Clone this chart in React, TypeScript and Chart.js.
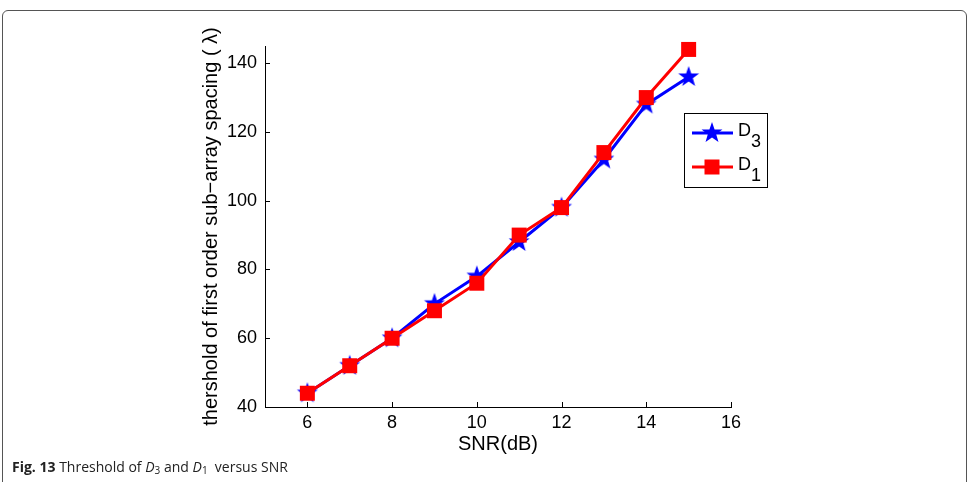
import React, { useEffect, useRef } from "react";
import { Chart, registerables } from "chart.js";
Chart.register(...registerables);

const snr = [6, 7, 8, 9, 10, 11, 12, 13, 14, 15];
const d3Values = [44, 52, 60, 70, 78, 88, 98, 112, 128, 136];
const d1Values = [44, 52, 60, 68, 76, 90, 98, 114, 130, 144];
const xTicks = [6, 8, 10, 12, 14, 16];
const yTicks = [40, 60, 80, 100, 120, 140];
const legendMain = ["D", "D"];
const legendSub = ["3", "1"];
const xTitle = "SNR(dB)";
const yTitle = "thershold of first order sub\u2212array spacing ( \u03bb)";

const FONT = "'Liberation Sans', Arial, sans-serif";

function makeStar(color: string, R: number) {
  const s = Math.ceil(2 * R + 2);
  const c = document.createElement("canvas");
  c.width = s;
  c.height = s;
  const ctx = c.getContext("2d")!;
  ctx.fillStyle = color;
  ctx.beginPath();
  for (let i = 0; i < 10; i++) {
    const r = i % 2 ? R * 0.4 : R;
    const a = -Math.PI / 2 + (i * Math.PI) / 5;
    const x = s / 2 + r * Math.cos(a);
    const y = s / 2 + r * Math.sin(a);
    if (i === 0) ctx.moveTo(x, y);
    else ctx.lineTo(x, y);
  }
  ctx.closePath();
  ctx.fill();
  return c;
}

export default function App() {
  const ref = useRef<HTMLCanvasElement | null>(null);

  useEffect(() => {
    if (!ref.current) return;
    const star = makeStar("#0000ff", 11);

    const extras = {
      id: "extras",
      afterDraw(chart: any) {
        const ctx = chart.ctx;
        const xs = chart.scales.x;
        const ys = chart.scales.y;
        const area = chart.chartArea;
        ctx.save();
        ctx.strokeStyle = "#000";
        ctx.lineWidth = 1;
        ctx.beginPath();
        xTicks.forEach((v) => {
          const px = Math.round(xs.getPixelForValue(v)) + 0.5;
          ctx.moveTo(px, area.bottom);
          ctx.lineTo(px, area.bottom - 5);
        });
        yTicks.forEach((v) => {
          const py = Math.round(ys.getPixelForValue(v)) + 0.5;
          ctx.moveTo(area.left, py);
          ctx.lineTo(area.left + 5, py);
        });
        ctx.stroke();

        // legend
        const bx = 684.5, by = 113.5, bw = 83, bh = 74;
        ctx.fillStyle = "#fff";
        ctx.fillRect(bx, by, bw, bh);
        ctx.strokeStyle = "#000";
        ctx.strokeRect(bx, by, bw, bh);
        const rows = [133, 167];
        const colors = ["#0000ff", "#ff0000"];
        rows.forEach((ry, i) => {
          ctx.strokeStyle = colors[i];
          ctx.lineWidth = 3;
          ctx.beginPath();
          ctx.moveTo(692, ry);
          ctx.lineTo(733, ry);
          ctx.stroke();
          if (i === 0) {
            ctx.drawImage(star, 712 - star.width / 2, ry - star.height / 2);
          } else {
            ctx.fillStyle = "#ff0000";
            ctx.fillRect(712 - 7.5, ry - 7.5, 15, 15);
          }
          ctx.fillStyle = "#000";
          ctx.font = `18px ${FONT}`;
          ctx.textBaseline = "alphabetic";
          ctx.textAlign = "left";
          ctx.fillText(legendMain[i], 738, ry + 3);
          const w = ctx.measureText(legendMain[i]).width;
          ctx.fillText(legendSub[i], 738 + w, ry + 14);
        });
        ctx.restore();
      },
    };

    const chart = new Chart(ref.current, {
      type: "line",
      data: {
        datasets: [
          {
            label: "D3",
            data: snr.map((x, i) => ({ x, y: d3Values[i] })),
            borderColor: "#0000ff",
            backgroundColor: "#0000ff",
            borderWidth: 3,
            pointStyle: star as any,
            pointRadius: 11,
            order: 2,
            clip: false as any,
          },
          {
            label: "D1",
            data: snr.map((x, i) => ({ x, y: d1Values[i] })),
            borderColor: "#ff0000",
            backgroundColor: "#ff0000",
            borderWidth: 3,
            pointStyle: "rect",
            pointRadius: 10.6,
            pointBorderWidth: 0,
            order: 1,
            clip: false as any,
          },
        ],
      },
      options: {
        responsive: false,
        animation: false,
        devicePixelRatio: 1,
        layout: { padding: { left: 195, right: 241, top: 46, bottom: 26 } },
        plugins: { legend: { display: false }, tooltip: { enabled: false } },
        scales: {
          x: {
            type: "linear",
            min: 5,
            max: 16,
            afterBuildTicks: (s: any) => {
              s.ticks = xTicks.map((v) => ({ value: v }));
            },
            afterFit: (s: any) => {
              s.height = 49;
            },
            grid: { display: false, drawTicks: false },
            border: { display: true, color: "#000", width: 1 },
            ticks: {
              color: "#000",
              font: { family: FONT, size: 18 },
              padding: 5,
              maxRotation: 0,
            },
            title: {
              display: true,
              text: xTitle,
              color: "#000",
              font: { family: FONT, size: 20 },
              padding: { top: 0, bottom: 0 },
            },
          },
          y: {
            type: "linear",
            min: 40,
            max: 145,
            afterBuildTicks: (s: any) => {
              s.ticks = yTicks.map((v) => ({ value: v }));
            },
            afterFit: (s: any) => {
              s.width = 70;
            },
            grid: { display: false, drawTicks: false },
            border: { display: true, color: "#000", width: 1 },
            ticks: {
              color: "#000",
              font: { family: FONT, size: 18 },
              padding: 8,
            },
            title: {
              display: true,
              text: yTitle,
              color: "#000",
              font: { family: FONT, size: 20 },
              padding: { top: 4, bottom: 0 },
            },
          },
        },
      },
      plugins: [extras],
    });
    return () => chart.destroy();
  }, []);

  const capFont = "'Open Sans', 'Noto Sans', sans-serif";
  const subStyle: React.CSSProperties = {
    fontSize: 10,
    verticalAlign: "baseline",
    position: "relative",
    top: 2,
  };
  return (
    <div
      style={{
        position: "fixed",
        left: 0,
        top: 0,
        width: 972,
        height: 482,
        background: "#fff",
        overflow: "hidden",
      }}
    >
      <div
        style={{
          position: "absolute",
          left: 2,
          top: 10,
          width: 965,
          height: 520,
          border: "1px solid #555",
          borderRadius: 6,
          boxSizing: "border-box",
        }}
      />
      <canvas
        ref={ref}
        width={972}
        height={482}
        style={{ position: "absolute", left: 0, top: 0, width: 972, height: 482 }}
      />
      <div
        style={{
          position: "absolute",
          left: 12,
          top: 458,
          fontFamily: capFont,
          fontSize: 14,
          color: "#222",
          whiteSpace: "nowrap",
          lineHeight: "18px",
        }}
      >
        <b>Fig. 13</b> Threshold of <i>D</i>
        <sub style={subStyle}>3</sub> and <i>D</i>
        <sub style={subStyle}>1</sub>&nbsp; versus SNR
      </div>
    </div>
  );
}
